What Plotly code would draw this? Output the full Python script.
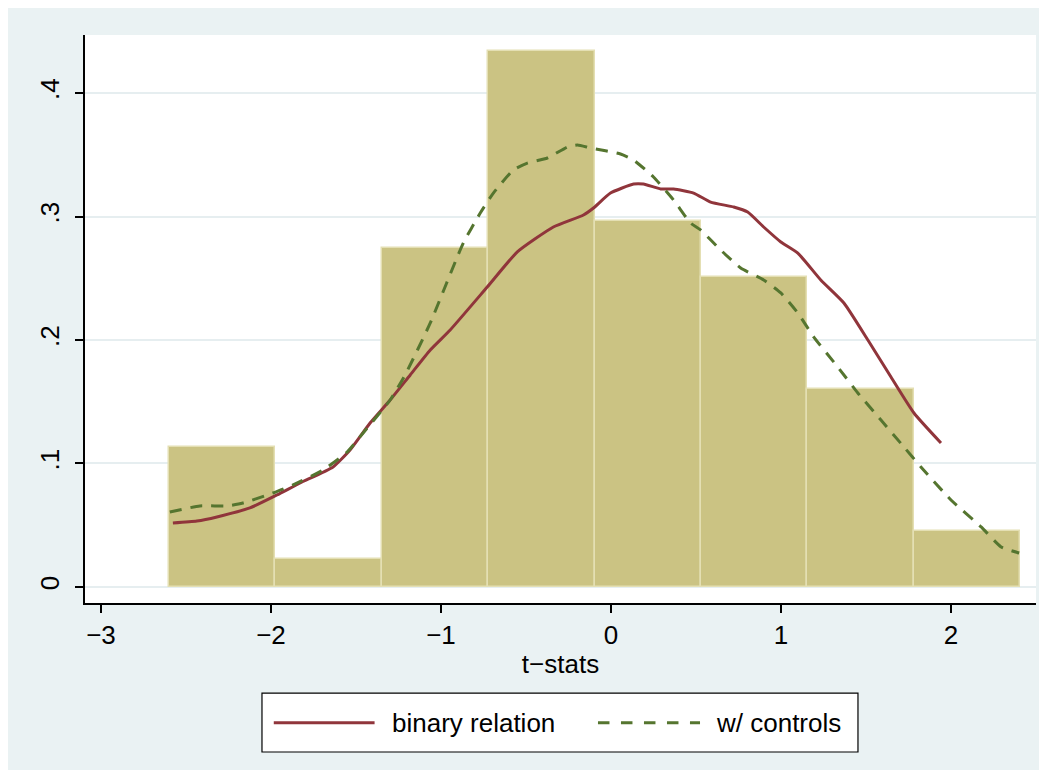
import plotly.graph_objects as go

# Histogram (density) of t-stats
bin_centers = [-2.288, -1.662, -1.036, -0.410, 0.216, 0.842, 1.468, 2.094]
bin_width = 0.626
bin_density = [0.1136, 0.0227, 0.2742, 0.434, 0.2966, 0.2513, 0.1601, 0.0456]

# Kernel density: binary relation
binary_x = [-2.577, -2.436, -2.318, -2.124, -1.965, -1.829, -1.635, -1.535, -1.417, -1.299,
            -1.181, -1.063, -0.946, -0.728, -0.551, -0.339, -0.162, -0.103, -0.003, 0.133,
            0.191, 0.292, 0.368, 0.486, 0.586, 0.722, 0.804, 0.898, 0.999, 1.099,
            1.234, 1.370, 1.511, 1.647, 1.782, 1.941]
binary_y = [0.0518, 0.0534, 0.0567, 0.0640, 0.0745, 0.0842, 0.0972, 0.1109, 0.1328, 0.1514,
            0.1717, 0.1919, 0.2081, 0.2429, 0.2713, 0.2915, 0.3012, 0.3069, 0.3190, 0.3263,
            0.3263, 0.3223, 0.3223, 0.3190, 0.3117, 0.3077, 0.3036, 0.2915, 0.2794, 0.2704,
            0.2486, 0.2300, 0.2000, 0.1700, 0.1409, 0.1166]

# Kernel density: w/ controls
controls_x = [-2.595, -2.418, -2.259, -2.165, -1.988, -1.870, -1.694, -1.552, -1.458, -1.299,
              -1.211, -1.063, -0.869, -0.769, -0.692, -0.574, -0.492, -0.374, -0.256, -0.197,
              -0.121, 0.056, 0.133, 0.250, 0.368, 0.468, 0.527, 0.645, 0.763, 0.898,
              0.999, 1.099, 1.193, 1.334, 1.452, 1.588, 1.723, 1.823, 2.000, 2.177,
              2.295, 2.401]
controls_y = [0.0607, 0.0656, 0.0656, 0.0680, 0.0761, 0.0826, 0.0947, 0.1093, 0.1247, 0.1514,
              0.1717, 0.2138, 0.2785, 0.3028, 0.3190, 0.3377, 0.3433, 0.3474, 0.3563, 0.3579,
              0.3555, 0.3506, 0.3457, 0.3320, 0.3134, 0.2947, 0.2891, 0.2729, 0.2583, 0.2486,
              0.2381, 0.2219, 0.2024, 0.1781, 0.1571, 0.1352, 0.1134, 0.0972, 0.0704, 0.0486,
              0.0324, 0.0275]

series_names = ["binary relation", "w/ controls"]
x_ticks = [-3, -2, -1, 0, 1, 2]
y_ticks = [0, 0.1, 0.2, 0.3, 0.4]
y_ticklabels = ["0", ".1", ".2", ".3", ".4"]

FONT = "Liberation Sans, Arial, Helvetica, sans-serif"
BG = "#EAF2F3"
GRID = "#E6EEF0"
RED = "#90353B"
GREEN = "#55752F"
FS = 26

fig = go.Figure()
fig.add_trace(go.Bar(
    x=bin_centers, y=bin_density, width=bin_width,
    marker=dict(color="#CBC383", line=dict(color="#E4DFB3", width=1.5)),
    showlegend=False, hoverinfo="skip",
))
fig.add_trace(go.Scatter(
    x=binary_x, y=binary_y, mode="lines", name=series_names[0], showlegend=False,
    line=dict(color=RED, width=3, shape="spline", smoothing=0.5),
))
fig.add_trace(go.Scatter(
    x=controls_x, y=controls_y, mode="lines", name=series_names[1], showlegend=False,
    line=dict(color=GREEN, width=3, dash="12px,9px", shape="spline", smoothing=0.5),
))

# Stata-style legend box below the plot (paper coordinates)
ly = -0.211
shapes = [
    dict(type="rect", xref="paper", yref="paper", x0=0.1861, x1=0.8128, y0=-0.2623, y1=-0.1585,
         fillcolor="white", line=dict(color="black", width=1.2), layer="above"),
    dict(type="line", xref="paper", yref="paper", x0=0.1985, x1=0.3045, y0=ly, y1=ly,
         line=dict(color=RED, width=3), layer="above"),
    dict(type="line", xref="paper", yref="paper", x0=0.5394, x1=0.6467, y0=ly, y1=ly,
         line=dict(color=GREEN, width=3, dash="11.5px,11.5px"), layer="above"),
]
annotations = [
    dict(xref="paper", yref="paper", x=0.3207, y=ly, xanchor="left", yanchor="middle",
         text=series_names[0], showarrow=False, font=dict(size=FS)),
    dict(xref="paper", yref="paper", x=0.6614, y=ly, xanchor="left", yanchor="middle",
         text=series_names[1], showarrow=False, font=dict(size=FS)),
]

fig.update_layout(
    width=1047, height=770, autosize=False,
    margin=dict(l=77, r=19, t=27, b=175),
    paper_bgcolor=BG, plot_bgcolor="white",
    font=dict(family=FONT, size=FS, color="black"),
    bargap=0, showlegend=False,
    shapes=shapes, annotations=annotations,
)
fig.update_xaxes(
    range=[-3.094, 2.5], tickvals=x_ticks,
    showline=True, linecolor="black", linewidth=1.5,
    ticks="outside", ticklen=8, tickwidth=1.5, tickcolor="black",
    showgrid=False, zeroline=False,
    title=dict(text="t\u2212stats", standoff=6, font=dict(size=FS)),
    tickfont=dict(size=FS),
)
fig.update_yaxes(
    range=[-0.013, 0.447], tickvals=y_ticks, ticktext=y_ticklabels,
    showline=True, linecolor="black", linewidth=1.5,
    ticks="outside", ticklen=8, tickwidth=1.5, tickcolor="black",
    showgrid=True, gridcolor=GRID, gridwidth=1.5,
    zeroline=True, zerolinecolor=GRID, zerolinewidth=1.5,
    tickangle=-90, ticklabelstandoff=6, tickfont=dict(size=FS),
)

fig.write_html("out.html")
